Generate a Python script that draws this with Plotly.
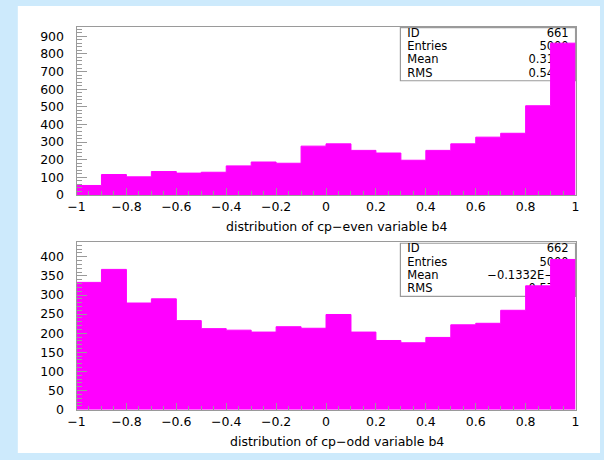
import plotly.graph_objects as go

# Bin edges shared by both histograms (20 bins on [-1, 1])
bin_edges = [round(-1 + 0.1 * i, 1) for i in range(21)]

# Histogram 661: cp-even variable b4
even_counts = [54, 116, 103, 133, 124, 129, 165, 187, 180, 277,
               290, 253, 238, 197, 253, 290, 328, 350, 506, 861]
# Histogram 662: cp-odd variable b4
odd_counts = [333, 367, 279, 290, 233, 212, 208, 203, 217, 213,
              249, 203, 181, 175, 189, 222, 226, 260, 324, 393]

stat_labels = ["ID", "Entries", "Mean", "RMS"]
even_stats = ["661", "5000", "0.3134", "0.5412"]
odd_stats = ["662", "5000", "\u22120.1332E\u221201", "0.5773"]

even_title = "distribution of cp\u2212even variable b4"
odd_title = "distribution of cp\u2212odd variable b4"

W, H = 604, 460
MAGENTA = "#ff00ff"
FRAME = "#9a9a9a"
FONT = "DejaVu Sans"

# Pixel layout of the two frames
X0, X1 = 69, 579
panels = [
    dict(top=27, bottom=198, ymax=955, counts=even_counts, stats=even_stats,
         title=even_title, title_y=230, box=(400, 28, 579, 82),
         rows=[34.5, 48, 61.5, 75], ydtick=100, yminor=20),
    dict(top=246, bottom=416, ymax=438, counts=odd_counts, stats=odd_stats,
         title=odd_title, title_y=448, box=(400, 247, 579, 301),
         rows=[253, 266.7, 280.4, 294], ydtick=50, yminor=10),
]


def px_to_x(px):
    return (px - X0) / (X1 - X0) * 2 - 1


fig = go.Figure()
shapes = [dict(type="rect", xref="paper", yref="paper",
               x0=9 / W, x1=1, y0=0, y1=1 - 6 / H,
               fillcolor="white", line=dict(width=0), layer="below")]
annotations = []

for i, p in enumerate(panels, start=1):
    xa = "x" if i == 1 else f"x{i}"
    ya = "y" if i == 1 else f"y{i}"

    def px_to_y(py, p=p):
        return (p["bottom"] - py) / (p["bottom"] - p["top"]) * p["ymax"]

    # statistics text (drawn first so the histogram fill covers it)
    lx = px_to_x(407)
    rx = px_to_x(572)
    ys = [px_to_y(r) for r in p["rows"]]
    fig.add_trace(go.Scatter(
        x=[lx] * 4, y=ys, text=stat_labels, mode="text",
        textposition="middle right", textfont=dict(family=FONT, size=11.5, color="black"),
        xaxis=xa, yaxis=ya, cliponaxis=False, hoverinfo="skip", showlegend=False))
    fig.add_trace(go.Scatter(
        x=[rx] * 4, y=ys, text=p["stats"], mode="text",
        textposition="middle left", textfont=dict(family=FONT, size=11.5, color="black"),
        xaxis=xa, yaxis=ya, cliponaxis=False, hoverinfo="skip", showlegend=False))

    # histogram as filled step outline
    fig.add_trace(go.Scatter(
        x=bin_edges, y=p["counts"] + [p["counts"][-1]],
        mode="lines", line=dict(shape="hv", color=MAGENTA, width=1),
        fill="tozeroy", fillcolor=MAGENTA,
        xaxis=xa, yaxis=ya, hoverinfo="skip", showlegend=False))

    bx0, by0, bx1, by1 = p["box"]
    shapes.append(dict(type="rect", xref="paper", yref="paper",
                       x0=bx0 / W, x1=bx1 / W, y0=1 - by1 / H, y1=1 - by0 / H,
                       fillcolor="white", line=dict(color=FRAME, width=1.2),
                       layer="below"))

    annotations.append(dict(text=p["title"], xref="paper", yref="paper",
                            x=335 / W, y=1 - p["title_y"] / H,
                            xanchor="center", yanchor="middle", showarrow=False,
                            font=dict(family=FONT, size=12.5, color="black")))

    dom_x = [X0 / W, X1 / W]
    dom_y = [1 - p["bottom"] / H, 1 - p["top"] / H]
    xkey = "xaxis" if i == 1 else f"xaxis{i}"
    ykey = "yaxis" if i == 1 else f"yaxis{i}"
    fig.layout[xkey] = dict(
        domain=dom_x, range=[-1, 1], anchor=ya, showgrid=False, zeroline=False,
        showline=True, linecolor=FRAME, linewidth=1, mirror=True,
        ticks="inside", ticklen=7, tickcolor=FRAME, tickwidth=1,
        tickmode="linear", tick0=-1, dtick=0.2, tickangle=0,
        minor=dict(ticks="inside", ticklen=4, tickcolor=FRAME, dtick=0.05, tick0=-1),
        tickfont=dict(family=FONT, size=12.5, color="black"))
    fig.layout[ykey] = dict(
        domain=dom_y, range=[0, p["ymax"]], anchor=xa, showgrid=False, zeroline=False,
        showline=True, linecolor=FRAME, linewidth=1, mirror=True,
        ticks="inside", ticklen=10, tickcolor=FRAME, tickwidth=1,
        tick0=0, dtick=p["ydtick"], ticklabelstandoff=9,
        minor=dict(ticks="inside", ticklen=5, tickcolor=FRAME, dtick=p["yminor"], tick0=0),
        tickfont=dict(family=FONT, size=12.5, color="black"))

fig.update_layout(
    width=W, height=H, margin=dict(l=0, r=0, t=0, b=0),
    paper_bgcolor="#cdeafc", plot_bgcolor="white",
    shapes=shapes, annotations=annotations, showlegend=False)

fig.write_html("out.html")
